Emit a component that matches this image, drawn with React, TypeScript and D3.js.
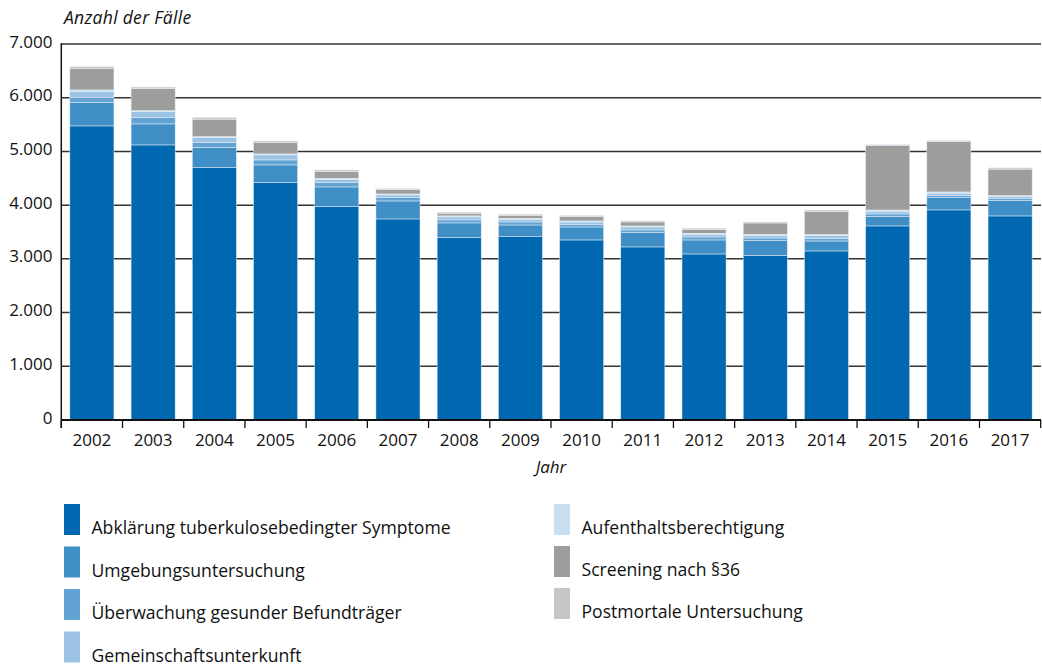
import React from "react";
import * as d3 from "d3";

const years = ["2002","2003","2004","2005","2006","2007","2008","2009","2010","2011","2012","2013","2014","2015","2016","2017"];

const seriesNames = [
  "Abklärung tuberkulosebedingter Symptome",
  "Umgebungsuntersuchung",
  "Überwachung gesunder Befundträger",
  "Gemeinschaftsunterkunft",
  "Aufenthaltsberechtigung",
  "Screening nach §36",
  "Postmortale Untersuchung",
];

const abklaerung = [5475, 5121, 4698, 4419, 3972, 3743, 3395, 3413, 3352, 3222, 3091, 3060, 3147, 3613, 3911, 3799];
const umgebung = [434, 391, 380, 330, 367, 335, 274, 218, 242, 266, 261, 279, 186, 173, 229, 285];
const ueberwachung = [100, 117, 93, 93, 80, 62, 56, 56, 50, 50, 56, 50, 50, 50, 37, 45];
const gemeinschaft = [104, 112, 86, 93, 63, 50, 56, 50, 43, 56, 50, 50, 48, 50, 45, 30];
const aufenthalt = [32, 19, 19, 19, 19, 19, 19, 19, 19, 19, 19, 19, 26, 24, 24, 19];
const screening = [404, 410, 324, 210, 123, 80, 43, 56, 80, 74, 74, 210, 428, 1197, 937, 492];
const postmortal = [28, 28, 30, 31, 31, 19, 26, 19, 19, 19, 19, 19, 24, 19, 19, 24];

const seriesValues = [abklaerung, umgebung, ueberwachung, gemeinschaft, aufenthalt, screening, postmortal];
const colors = ["#0068b1", "#3f8ec6", "#62a3d3", "#9dc3e4", "#c7dff0", "#9d9d9c", "#c6c6c6"];

const yTicks = [0, 1000, 2000, 3000, 4000, 5000, 6000, 7000];

const W = 1042, H = 664;
const FONT = "'Open Sans', sans-serif";

export default function App() {
  const x = d3.scaleBand<string>().domain(years).range([61.3, 1040.7]).paddingInner(0.28).paddingOuter(0.14);
  const y = d3.scaleLinear().domain([0, 7000]).range([420, 44]);
  const step = x.step();
  const x0 = 61.3;

  const rows = years.map((yr, i) => {
    const r: any = { year: yr };
    seriesNames.forEach((s, k) => (r[s] = seriesValues[k][i]));
    return r;
  });
  const stacked = d3.stack().keys(seriesNames)(rows);
  const fmt = (v: number) => d3.format(",")(v).replace(/,/g, ".");

  const legendLeft = seriesNames.slice(0, 4);
  const legendRight = seriesNames.slice(4);

  return (
    <svg width={W} height={H} style={{ position: "absolute", left: 0, top: 0, background: "#fff" }} fontFamily={FONT}>
      {yTicks.filter((t) => t > 0).map((t) => (
        <line key={t} x1={61} x2={1041} y1={y(t)} y2={y(t)} stroke="#333" strokeWidth={1.5} />
      ))}
      {stacked.map((layer, k) => (
        <g key={layer.key} fill={colors[k]}>
          {layer.map((d, i) => (
            <rect key={i} x={x(years[i])} width={x.bandwidth()} y={y(d[1])} height={Math.max(0, y(d[0]) - y(d[1]))}
              stroke="#e6eef6" strokeWidth={0.5} />
          ))}
        </g>
      ))}
      <line x1={61.3} x2={61.3} y1={43.3} y2={428} stroke="#111" strokeWidth={1.5} />
      <line x1={61} x2={1041} y1={420} y2={420} stroke="#111" strokeWidth={1.8} />
      {d3.range(years.length + 1).map((i) => (
        <line key={i} x1={x0 + i * step} x2={x0 + i * step} y1={420} y2={428} stroke="#111" strokeWidth={1.3} />
      ))}
      {yTicks.map((t) => (
        <text key={t} x={52.5} y={y(t) + 3.5} textAnchor="end" fontSize={17} fill="#111">{fmt(t)}</text>
      ))}
      {years.map((yr) => (
        <text key={yr} x={(x(yr) as number) + x.bandwidth() / 2} y={446} textAnchor="middle" fontSize={17} fill="#111">{yr}</text>
      ))}
      <text x={64} y={24} fontSize={17.5} letterSpacing={0.3} fontStyle="italic" fill="#111">Anzahl der Fälle</text>
      <text x={551} y={473} textAnchor="middle" fontSize={17} fontStyle="italic" fill="#111">Jahr</text>
      {legendLeft.map((s, i) => (
        <g key={s} transform={`translate(64, ${504 + i * 42.5})`}>
          <rect width={16} height={31} fill={colors[i]} />
          <text x={27.5} y={30} fontSize={17.6} fill="#111">{s}</text>
        </g>
      ))}
      {legendRight.map((s, i) => (
        <g key={s} transform={`translate(554, ${504 + i * 42})`}>
          <rect width={16} height={31} fill={colors[i + 4]} />
          <text x={27.5} y={30} fontSize={17.6} fill="#111">{s}</text>
        </g>
      ))}
    </svg>
  );
}
